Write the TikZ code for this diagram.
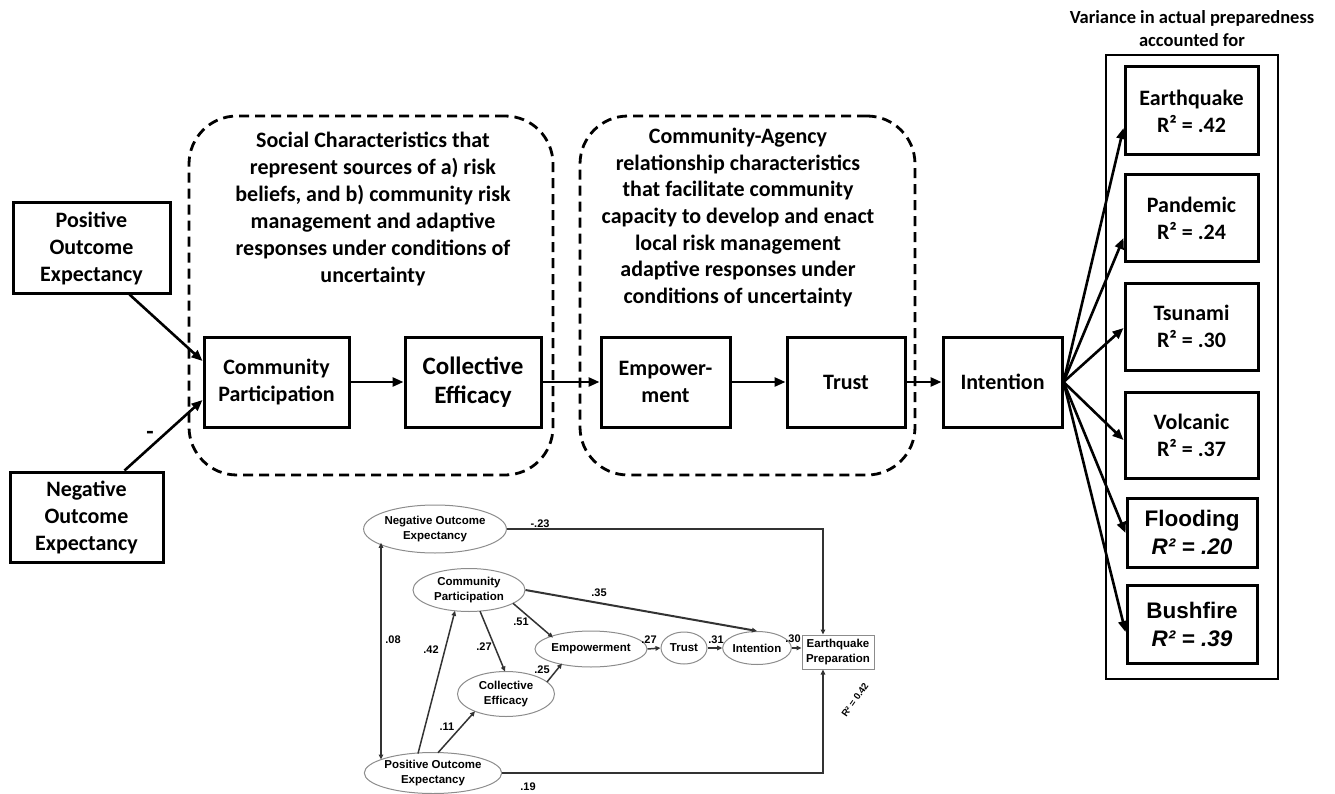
\documentclass[tikz,border=0pt]{standalone}
\usepackage{fontspec}
\setmainfont{Carlito}
\newfontfamily\arialfont{Liberation Sans}
\usetikzlibrary{arrows.meta,shapes.geometric,calc}
\begin{document}
\begin{tikzpicture}[x=1pt,y=-1pt,
  font=\bfseries\fontsize{22}{27}\selectfont,
  mbox/.style={draw,line width=3pt,align=center,inner sep=0pt},
  marr/.style={line width=2.6pt,-{Triangle[length=11pt,width=9pt]}},
  dashbox/.style={draw,line width=2.8pt,dash pattern=on 10pt off 6pt,rounded corners=48pt,inner sep=0pt},
  hdr/.style={align=center,inner sep=0pt},
  rbox/.style={draw,line width=3pt,align=center,inner sep=0pt,minimum width=133pt},
  ell/.style={ellipse,draw=black!45,line width=1pt,inner sep=0pt,align=center,
    font=\arialfont\bfseries\fontsize{11.5}{15}\selectfont},
  iarr/.style={draw=black!80,line width=1.5pt,-{Triangle[length=5pt,width=4.5pt]}},
  ilab/.style={font=\arialfont\bfseries\fontsize{11}{13}\selectfont,inner sep=0pt},
]
\useasboundingbox (0,0) rectangle (1335,794);

% ---------- grouping frames ----------
\node[dashbox,minimum width=364pt,minimum height=359pt] (soc) at (371,295.5) {};
\node[dashbox,minimum width=335pt,minimum height=359pt] (rel) at (747.5,295.5) {};
\node[hdr] (socT) at (373,209) {Social Characteristics that\\represent sources of a) risk\\beliefs, and b) community risk\\management and adaptive\\responses under conditions of\\uncertainty};
\node[hdr,font=\bfseries\fontsize{22}{26.7}\selectfont] (relT) at (738,217.5) {Community-Agency\\relationship characteristics\\that facilitate community\\capacity to develop and enact\\local risk management\\adaptive responses under\\conditions of uncertainty};

% ---------- main path model ----------
\node[mbox,minimum width=157pt,minimum height=90pt] (poe) at (91.5,248) {Positive\\Outcome\\Expectancy};
\node[mbox,minimum width=153pt,minimum height=90pt] (noe) at (86.5,517) {Negative\\Outcome\\Expectancy};
\node[mbox,minimum width=145pt,minimum height=90pt] (cp) at (276.5,382) {Community\\Participation};
\node[mbox,minimum width=136pt,minimum height=90pt,font=\bfseries\fontsize{25}{29}\selectfont] (ce) at (473,382) {Collective\\Efficacy};
\node[mbox,minimum width=129pt,minimum height=90pt] (emp) at (665.5,382) {Empower-\\ment};
\node[mbox,minimum width=118pt,minimum height=90pt] (tr) at (846,382) {Trust};
\node[mbox,minimum width=119pt,minimum height=90pt] (int) at (1002.5,382) {Intention};
\node[inner sep=0pt,font=\bfseries\fontsize{24}{27}\selectfont] (minus) at (150,435) {-};

\draw[marr] ($(poe.south)+(38,0)$) -- ($(cp.west)+(0,-21)$);
\draw[marr] ($(noe.north)+(38,0)$) -- ($(cp.west)+(0,18)$);
\draw[marr] (cp.east) -- (ce.west);
\draw[marr] (ce.east) -- (emp.west);
\draw[marr] (emp.east) -- (tr.west);
\draw[marr] (tr.east) -- (int.west);

% ---------- outcomes panel ----------
\node[hdr,font=\bfseries\fontsize{18.5}{23}\selectfont] (vt) at (1192,28.5) {Variance in actual preparedness\\accounted for};
\node[draw,line width=2pt,minimum width=172pt,minimum height=624pt,inner sep=0pt] (panel) at (1192,367) {};
\node[rbox,minimum height=88pt] (eq) at (1191.5,111) {Earthquake\\R² = .42};
\node[rbox,minimum height=87pt] (pan) at (1191.5,218.5) {Pandemic\\R² = .24};
\node[rbox,minimum height=87pt] (tsu) at (1191.5,326.5) {Tsunami\\R² = .30};
\node[rbox,minimum height=86pt] (vol) at (1191.5,435) {Volcanic\\R² = .37};
\node[rbox,minimum width=130pt,minimum height=69pt,font=\arialfont\bfseries\fontsize{22.5}{28}\selectfont] (flo) at (1192,532.5) {Flooding\\\textit{R² = .20}};
\node[rbox,minimum width=130pt,minimum height=78pt,font=\arialfont\bfseries\fontsize{22.5}{28}\selectfont] (bus) at (1192,624) {Bushfire\\\textit{R² = .39}};

\draw[marr] (int.east) -- (eq.west |- 0,128);
\draw[marr] (int.east) -- (pan.west |- 0,238);
\draw[marr] (int.east) -- (tsu.west |- 0,328);
\draw[marr] (int.east) -- (vol.west |- 0,440);
\draw[marr] (int.east) -- (flo.west |- 0,533);
\draw[marr] (int.east) -- (bus.west |- 0,632);

% ---------- estimated structural model ----------
\node[ell,minimum width=132pt,minimum height=48pt] (inoe) at (435,529) {Negative Outcome\\Expectancy};
\node[ell,minimum width=112pt,minimum height=43pt] (icp) at (469,590) {Community\\Participation};
\node[ell,minimum width=97pt,minimum height=45pt] (ice) at (506,694) {Collective\\Efficacy};
\node[ell,minimum width=98pt,minimum height=36pt] (iemp) at (591,649) {Empowerment};
\node[ell,minimum width=46pt,minimum height=32pt] (itr) at (684,648) {Trust};
\node[ell,minimum width=59pt,minimum height=33pt] (iint) at (757,648) {Intention};
\node[draw=black!45,line width=1pt,minimum width=72pt,minimum height=34pt,inner sep=0pt,align=center,
  font=\arialfont\bfseries\fontsize{11.5}{15}\selectfont] (iep) at (838,652) {Earthquake\\Preparation};
\node[ell,minimum width=130pt,minimum height=41pt] (ipoe) at (433,773) {Positive Outcome\\Expectancy};

\draw[iarr] (inoe.east) -| ($(iep.north)+(-15,0)$);
\draw[iarr] (ipoe.east) -| ($(iep.south)+(-15,0)$);
\draw[iarr,{Triangle[length=5pt,width=4.5pt]}-{Triangle[length=5pt,width=4.5pt]}]
  ($(inoe.center)+(-54,13.8)$) -- ($(ipoe.center)+(-52,-13.5)$);
\draw[iarr] ($(ipoe.center)+(-15,-19.5)$) -- ($(icp.center)+(-14,20.8)$);
\draw[iarr] ($(ipoe.center)+(5,-20.3)$) -- ($(ice.center)+(-31,17.3)$);
\draw[iarr] ($(icp.center)+(11,21.1)$) -- ($(ice.center)+(-1,-22.5)$);
\draw[iarr] ($(icp.center)+(44,13.3)$) -- ($(iemp.center)+(-38,-11.4)$);
\draw[iarr,line width=2pt] (icp.east) -- (iint.north);
\draw[iarr] ($(ice.center)+(41,-12)$) -- ($(iemp.center)+(-29,14.5)$);
\draw[iarr] (iemp.east) -- (itr.west);
\draw[iarr] (itr.east) -- (iint.west);
\draw[iarr] (iint.east) -- (iint.east -| iep.west);

\node[ilab] (l23) at (540,524) {-.23};
\node[ilab] (l08) at (393,640) {.08};
\node[ilab] (l42) at (431,650) {.42};
\node[ilab] (l27a) at (484,647) {.27};
\node[ilab] (l51) at (521,622) {.51};
\node[ilab] (l35) at (599,593) {.35};
\node[ilab] (l25) at (542,670) {.25};
\node[ilab] (l11) at (447,727) {.11};
\node[ilab] (l27b) at (649,640) {.27};
\node[ilab] (l31) at (716,640) {.31};
\node[ilab] (l30) at (793,639) {.30};
\node[ilab] (l19) at (528,787) {.19};
\node[ilab,rotate=55,font=\arialfont\bfseries\fontsize{9.5}{11}\selectfont] (lr2) at (855,700) {R² = 0.42};
\end{tikzpicture}
\end{document}
